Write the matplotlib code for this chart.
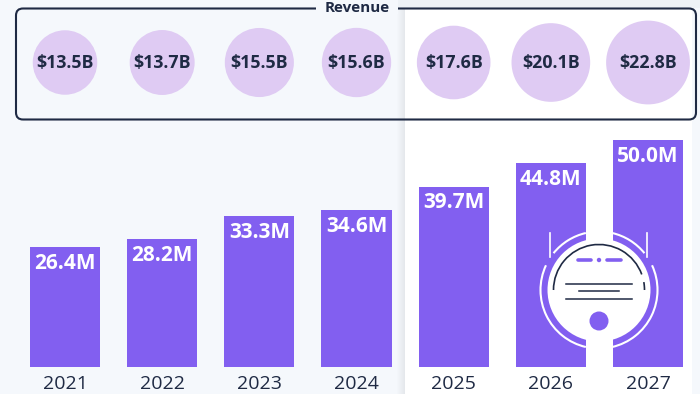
import numpy as np
import matplotlib
matplotlib.use("Agg")
import matplotlib.pyplot as plt
from matplotlib.patches import Rectangle, FancyBboxPatch, Circle, Arc

plt.rcParams['font.family'] = ['Open Sans', 'DejaVu Sans']

years = ['2021', '2022', '2023', '2024', '2025', '2026', '2027']
units = [26.4, 28.2, 33.3, 34.6, 39.7, 44.8, 50.0]
unit_labels = ['26.4M', '28.2M', '33.3M', '34.6M', '39.7M', '44.8M', '50.0M']
revenue = [13.5, 13.7, 15.5, 15.6, 17.6, 20.1, 22.8]
revenue_labels = ['$13.5B', '$13.7B', '$15.5B', '$15.6B', '$17.6B', '$20.1B', '$22.8B']

NAVY = '#1f2a44'
PURPLE = '#825ff0'
LILAC = '#dfcbf3'
BG = '#f5f8fc'

fig = plt.figure(figsize=(7, 3.94), dpi=100, facecolor=BG)

# overlay in pixels for panel, frame and the robot
bg = fig.add_axes([0, 0, 1, 1], zorder=0)
bg.set_xlim(0, 700)
bg.set_ylim(394, 0)
bg.axis('off')
bg.add_patch(Rectangle((398, 0), 302, 8, color='#eef2f6', lw=0))
for i in range(8):
    bg.add_patch(Rectangle((397 + i, 8), 8, 386, color='#8a94a8', alpha=0.015, lw=0))
bg.add_patch(Rectangle((405, 8), 287, 386, color='white', lw=0))

# bars and bubbles share category axis
ax = fig.add_axes([0, 0, 1, 1], zorder=1)
ax.patch.set_alpha(0)
spacing = 97.17
per_px = 1 / 4.545
ax.set_xlim(-65 / spacing, 635 / spacing)
ax.set_ylim(-27 * per_px, 367 * per_px)
ax.axis('off')
x = np.arange(len(years))
ax.bar(x, units, width=0.722, color=PURPLE, lw=0)
for i in x:
    ax.text(i, units[i] - 1.3, unit_labels[i], ha='center', va='top', color='white',
            fontsize=15, fontweight='bold')
    ax.text(i, -3.8, years[i], ha='center', va='center', color=NAVY, fontsize=14)

bubble_y = (367 - 62.5) * per_px
sizes = [(2 * np.sqrt(77 * v) * 0.72) ** 2 for v in revenue]
ax.scatter(x, [bubble_y] * len(x), s=sizes, color=LILAC, lw=0, zorder=3)
for i in x:
    ax.text(i, bubble_y - 0.2, revenue_labels[i], ha='center', va='center', color=NAVY,
            fontsize=12.8, fontweight='bold', zorder=4)

top = fig.add_axes([0, 0, 1, 1], zorder=2)
top.patch.set_alpha(0)
top.set_xlim(0, 700)
top.set_ylim(394, 0)
top.axis('off')
top.add_patch(FancyBboxPatch((16, 8.5), 680, 111, boxstyle='round,pad=0,rounding_size=7',
                             fc='none', ec=NAVY, lw=1.5))
top.add_patch(Rectangle((316, 2), 82, 12, color=BG, lw=0))
top.text(357, 8, 'Revenue', ha='center', va='center', color=NAVY, fontsize=11, fontweight='bold')

# robot icon, angles run clockwise on screen because y is flipped
cx, cy = 599, 290
top.add_patch(Circle((cx, cy), 51.5, color='white', lw=0))
for a1, a2 in [(103, 205), (219, 257), (283, 321), (335, 437)]:
    top.add_patch(Arc((cx, cy), 117, 117, theta1=a1, theta2=a2, color='white', lw=1.5))
top.plot([550, 550], [233, 257], color='white', lw=1.2)
top.plot([647, 647], [233, 257], color='white', lw=1.2)
top.add_patch(Arc((cx, cy), 91, 91, theta1=180, theta2=340, color=NAVY, lw=1.2))
top.add_patch(Arc((cx, cy), 91, 91, theta1=350, theta2=360, color=NAVY, lw=1.2))
top.plot([577.5, 591], [260, 260], color=PURPLE, lw=2.6, solid_capstyle='round')
top.plot([607, 620.5], [260, 260], color=PURPLE, lw=2.6, solid_capstyle='round')
top.add_patch(Circle((599, 260), 2.2, color=PURPLE, lw=0))
for xs, y in [((566, 632), 283.5), ((579, 619), 291), ((566, 632), 299)]:
    top.plot(xs, [y, y], color=NAVY, lw=1.1)
top.add_patch(Circle((599, 321), 9.5, color=PURPLE, lw=0))

fig.savefig('out.png', dpi=100)
